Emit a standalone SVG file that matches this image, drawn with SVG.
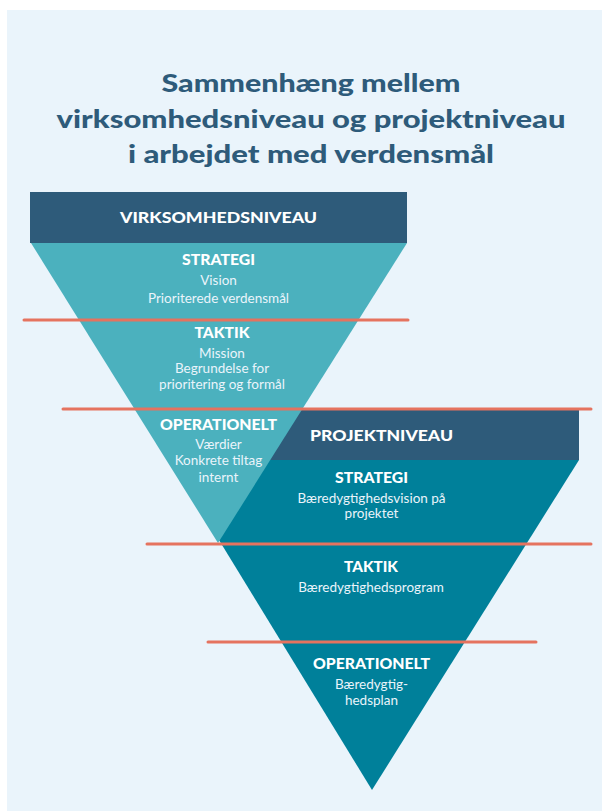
<svg xmlns="http://www.w3.org/2000/svg" width="602" height="811" viewBox="0 0 602 811">
<style>
.title{font-family:"Lato","Open Sans",sans-serif;font-weight:900;font-size:25px;fill:#2E5B7A;text-anchor:middle}
.hd{font-family:"Lato","Open Sans",sans-serif;font-weight:900;font-size:15px;fill:#FFFFFF;text-anchor:middle}
.bd{font-family:"Lato","Open Sans",sans-serif;font-size:13.5px;fill:#EAF4FB;text-anchor:middle}
.red{stroke:#E5735F;stroke-width:3;stroke-linecap:round;fill:none}
</style>
<rect x="0" y="0" width="602" height="811" fill="#FFFFFF"/>
<rect x="7" y="10" width="595" height="801" fill="#EAF4FB"/>
<g id="title">
<text class="title" x="311" y="92" textLength="299" lengthAdjust="spacingAndGlyphs">Sammenhæng mellem</text>
<text class="title" x="311" y="128" textLength="509" lengthAdjust="spacingAndGlyphs">virksomhedsniveau og projektniveau</text>
<text class="title" x="311" y="163" textLength="366" lengthAdjust="spacingAndGlyphs">i arbejdet med verdensmål</text>
</g>
<g id="projekt">
<rect x="175" y="410" width="404" height="50" fill="#2E5B7A"/>
<polygon points="170,460 579,460 372,790" fill="#00809A"/>
</g>
<g id="virksomhed">
<polygon points="31,243 407,243 218,543" fill="#4BB1BE"/>
<rect x="30" y="192" width="377" height="51" fill="#2E5B7A"/>
</g>
<g id="connectors">
<line class="red" x1="24" y1="320" x2="408" y2="320"/>
<line class="red" x1="63" y1="409" x2="591" y2="409"/>
<line class="red" x1="147" y1="544" x2="591" y2="544"/>
<line class="red" x1="208" y1="642" x2="536" y2="642"/>
</g>
<g id="virksomhed-label">
<text class="hd" x="218.5" y="223" textLength="197" lengthAdjust="spacingAndGlyphs">VIRKSOMHEDSNIVEAU</text>
</g>
<g id="v-strategi">
<text class="hd" x="218.5" y="265" textLength="73" lengthAdjust="spacingAndGlyphs">STRATEGI</text>
<text class="bd" x="218.5" y="285">Vision</text>
<text class="bd" x="218.5" y="303">Prioriterede verdensmål</text>
</g>
<g id="v-taktik">
<text class="hd" x="222" y="338" textLength="55" lengthAdjust="spacingAndGlyphs">TAKTIK</text>
<text class="bd" x="222" y="358">Mission</text>
<text class="bd" x="222" y="373">Begrundelse for</text>
<text class="bd" x="222" y="389">prioritering og formål</text>
</g>
<g id="v-operationelt">
<text class="hd" x="218.5" y="430" textLength="117" lengthAdjust="spacingAndGlyphs">OPERATIONELT</text>
<text class="bd" x="218.5" y="449">Værdier</text>
<text class="bd" x="218.5" y="465">Konkrete tiltag</text>
<text class="bd" x="218.5" y="482">internt</text>
</g>
<g id="projekt-label">
<text class="hd" x="381.5" y="441" textLength="143" lengthAdjust="spacingAndGlyphs">PROJEKTNIVEAU</text>
</g>
<g id="p-strategi">
<text class="hd" x="371.5" y="483" textLength="73" lengthAdjust="spacingAndGlyphs">STRATEGI</text>
<text class="bd" x="371.5" y="503">Bæredygtighedsvision på</text>
<text class="bd" x="371.5" y="518">projektet</text>
</g>
<g id="p-taktik">
<text class="hd" x="371" y="572" textLength="54" lengthAdjust="spacingAndGlyphs">TAKTIK</text>
<text class="bd" x="371" y="592">Bæredygtighedsprogram</text>
</g>
<g id="p-operationelt">
<text class="hd" x="371.5" y="669" textLength="117" lengthAdjust="spacingAndGlyphs">OPERATIONELT</text>
<text class="bd" x="371.5" y="689">Bæredygtig-</text>
<text class="bd" x="371.5" y="705">hedsplan</text>
</g>
</svg>
